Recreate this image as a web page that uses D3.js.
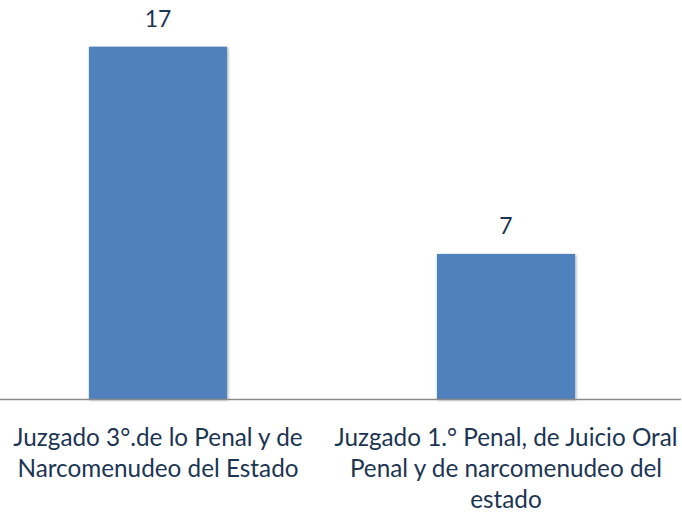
<!DOCTYPE html>
<html>
<head>
<meta charset="utf-8">
<script src="https://cdn.jsdelivr.net/npm/d3@7"></script>
<style>
  body { margin: 0; background: #fff; }
  svg { display: block; }
  text { font-family: Lato, "Open Sans", sans-serif; fill: #1c3553; }
</style>
</head>
<body>
<svg id="chart" width="682" height="512"></svg>
<script>
// chart data
var categories = ["Juzgado 3°.de lo Penal y de Narcomenudeo del Estado",
    "Juzgado 1.° Penal, de Juicio Oral Penal y de narcomenudeo del estado"];
var values = [17, 7];
var tickLines = [
    ["Juzgado 3°.de lo Penal y de", "Narcomenudeo del Estado"],
    ["Juzgado 1.° Penal, de Juicio Oral", "Penal y de narcomenudeo del", "estado"]
];

var W = 682, H = 512;
var baseY = 399;

var svg = d3.select("#chart");

var defs = svg.append("defs");
var f = defs.append("filter").attr("id", "shadow")
    .attr("x", "-10%").attr("y", "-10%").attr("width", "120%").attr("height", "120%");
f.append("feDropShadow")
    .attr("dx", 1).attr("dy", 1)
    .attr("stdDeviation", 1.6)
    .attr("flood-color", "#000")
    .attr("flood-opacity", 0.35);

var x = d3.scaleBand()
    .domain(categories)
    .range([-16, 680])
    .paddingInner(0.603)
    .paddingOuter(0.3015);

var y = d3.scaleLinear()
    .domain([0, 17])
    .range([baseY, 46.7]);

// bars
svg.selectAll("rect.bar")
    .data(values)
    .enter().append("rect")
    .attr("class", "bar")
    .attr("x", function (d, i) { return x(categories[i]); })
    .attr("y", function (d) { return y(d); })
    .attr("width", x.bandwidth())
    .attr("height", function (d) { return baseY - y(d); })
    .attr("fill", "#4f81bd")
    .attr("filter", "url(#shadow)");

// value labels
svg.selectAll("text.val")
    .data(values)
    .enter().append("text")
    .attr("class", "val")
    .attr("x", function (d, i) { return x(categories[i]) + x.bandwidth() / 2; })
    .attr("y", function (d) { return y(d) - 20; })
    .attr("text-anchor", "middle")
    .style("font-size", "23px")
    .text(function (d) { return d; });

// axis line
svg.append("line")
    .attr("x1", 0).attr("x2", 681)
    .attr("y1", baseY + 0.5).attr("y2", baseY + 0.5)
    .attr("stroke", "#8a8a8a")
    .attr("stroke-width", 1.6);

// category labels
var axis = d3.axisBottom(x).tickSize(0).tickFormat("");
var gx = svg.append("g").attr("transform", "translate(0," + baseY + ")").call(axis);
gx.select(".domain").remove();

gx.selectAll(".tick").each(function (d, i) {
    var t = d3.select(this).append("text")
        .attr("text-anchor", "middle")
        .style("font-size", "24.3px");
    tickLines[i].forEach(function (line, j) {
        t.append("tspan")
            .attr("x", 0)
            .attr("y", 47 + j * 31)
            .text(line);
    });
});
</script>
</body>
</html>
